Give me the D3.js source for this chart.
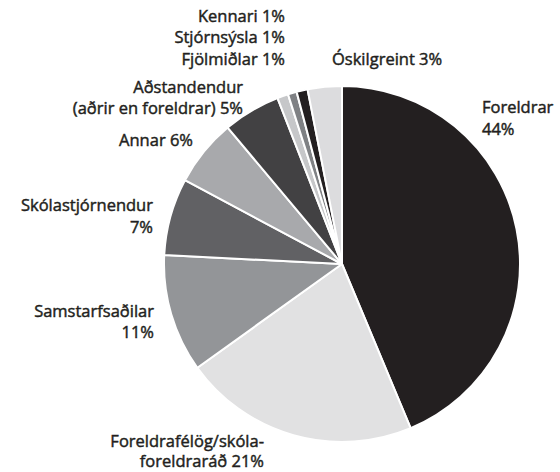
<!DOCTYPE html>
<html>
<head>
<meta charset="utf-8">
<script src="https://cdn.jsdelivr.net/npm/d3@7"></script>
<style>
  body { margin: 0; background: #fff; }
</style>
</head>
<body>
<div id="chart"></div>
<script>
// categories, clockwise from 12 o'clock
const categories = ["Foreldrar", "Foreldrafélög/skólaforeldraráð", "Samstarfsaðilar", "Skólastjórnendur",
  "Annar", "Aðstandendur (aðrir en foreldrar)", "Kennari", "Stjórnsýsla", "Fjölmiðlar", "Óskilgreint"];
// printed percentages
const percents = [44, 21, 11, 7, 6, 5, 1, 1, 1, 3];
// slice sizes as drawn in the picture (%)
const shares = [43.7, 21.4, 10.7, 7.0, 6.1, 5.2, 1.0, 0.8, 1.0, 3.1];
// label text lines
const labelLines = [
  ["Foreldrar", "44%"],
  ["Foreldrafélög/skóla-", "foreldraráð 21%"],
  ["Samstarfsaðilar", "11%"],
  ["Skólastjórnendur", "7%"],
  ["Annar 6%"],
  ["Aðstandendur", "(aðrir en foreldrar) 5%"],
  ["Kennari 1%"],
  ["Stjórnsýsla 1%"],
  ["Fjölmiðlar 1%"],
  ["Óskilgreint 3%"]
];

const width = 560, height = 472;
const cx = 342, cy = 264, radius = 178;
const fills = ["#231f20", "#e1e1e2", "#939598", "#616164", "#a8a9ac",
  "#424143", "#c6c7c9", "#7f8184", "#231f20", "#dcdcde"];

// label placement (anchor, x, y of first line), hand-placed like the original
const labelLayout = [
  {anchor: "start", x: 482, y: 107, lh: 22},
  {anchor: "end", x: 264, y: 441, lh: 20},
  {anchor: "end", x: 154, y: 311, lh: 21},
  {anchor: "end", x: 153, y: 205, lh: 22},
  {anchor: "end", x: 193, y: 140, lh: 21},
  {anchor: "end", x: 243, y: 87, lh: 21},
  {anchor: "end", x: 285, y: 16, lh: 21},
  {anchor: "end", x: 285, y: 37, lh: 21},
  {anchor: "end", x: 285, y: 59, lh: 21},
  {anchor: "start", x: 332, y: 59, lh: 21}
];

const data = categories.map((c, i) => ({name: c, pct: percents[i], share: shares[i], i}));

const color = d3.scaleOrdinal(categories, fills);

const pie = d3.pie()
    .sort(null)
    .value(d => d.share);

const arc = d3.arc()
    .innerRadius(0)
    .outerRadius(radius);

const svg = d3.create("svg")
    .attr("width", width)
    .attr("height", height)
    .attr("viewBox", [0, 0, width, height])
    .attr("font-family", "'Open Sans', 'Noto Sans', sans-serif")
    .attr("font-size", 16.5);

svg.append("g")
    .attr("transform", `translate(${cx},${cy})`)
  .selectAll("path")
  .data(pie(data))
  .join("path")
    .attr("fill", d => color(d.data.name))
    .attr("stroke", "#fff")
    .attr("stroke-width", 2)
    .attr("stroke-linejoin", "round")
    .attr("d", arc);

// a hairline stroke gives the labels the heavier look of the original type
const labels = svg.append("g")
    .attr("fill", "#231f20")
    .attr("stroke", "#231f20")
    .attr("stroke-width", 0.45)
  .selectAll("text")
  .data(data)
  .join("text")
    .attr("text-anchor", d => labelLayout[d.i].anchor)
    .attr("x", d => labelLayout[d.i].x)
    .attr("y", d => labelLayout[d.i].y)
    .attr("dy", "0.35em");

labels.selectAll("tspan")
  .data(d => labelLines[d.i].map(t => ({t, x: labelLayout[d.i].x, lh: labelLayout[d.i].lh})))
  .join("tspan")
    .attr("x", d => d.x)
    .attr("dy", (d, j) => j ? d.lh : null)
    .text(d => d.t);

d3.select("#chart").append(() => svg.node());
</script>
</body>
</html>
